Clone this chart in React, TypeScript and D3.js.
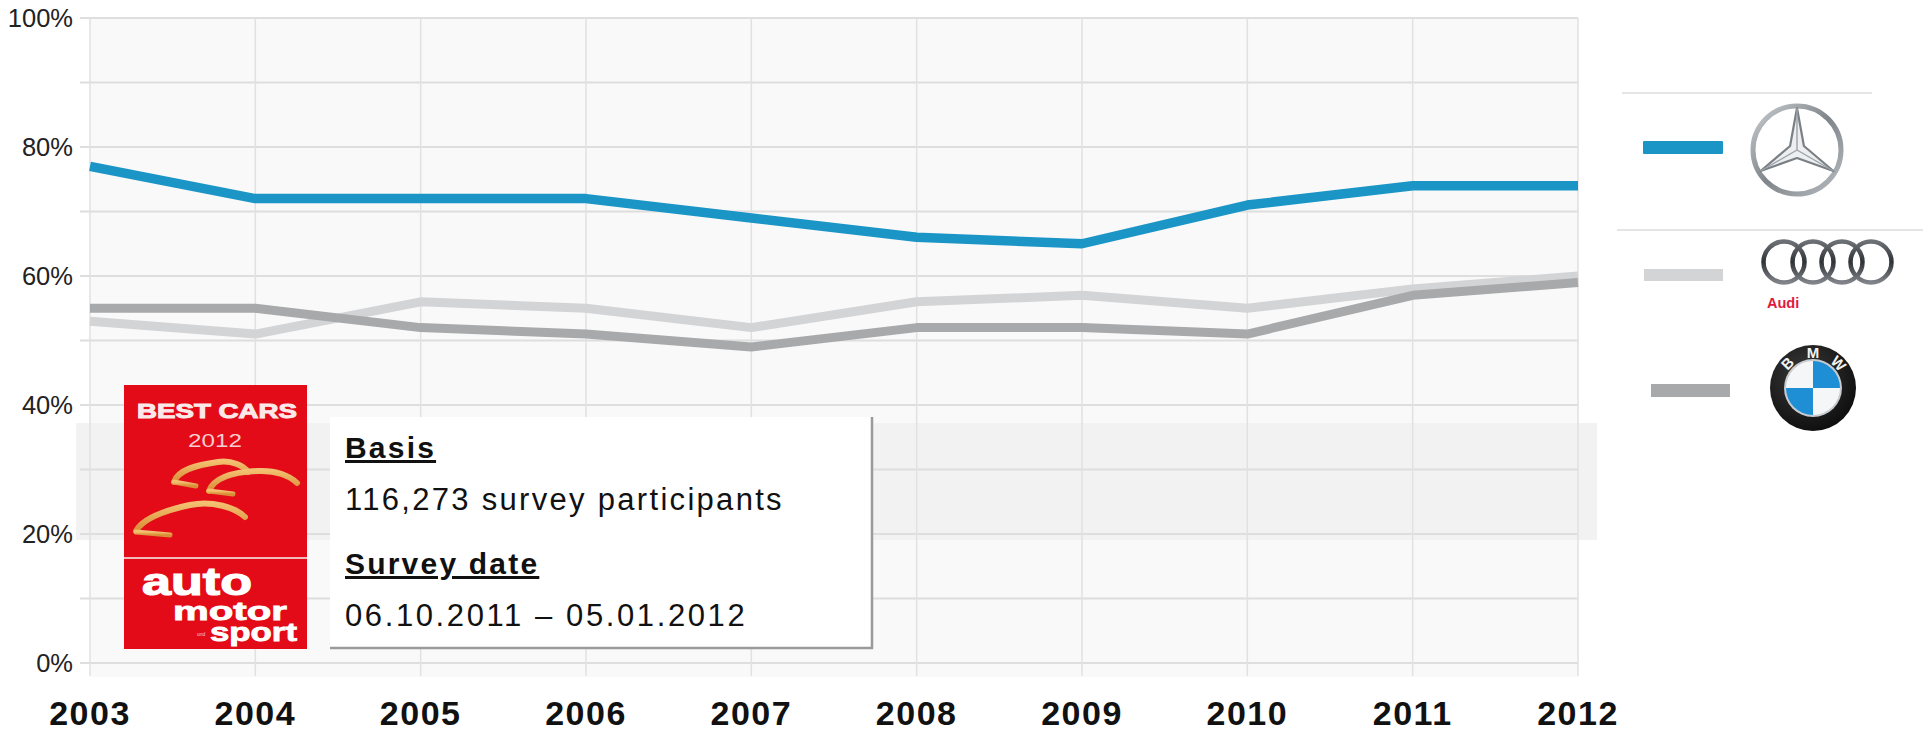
import React from "react";
import * as d3 from "d3";

const years = ["2003", "2004", "2005", "2006", "2007", "2008", "2009", "2010", "2011", "2012"];
const mercedes = [77, 72, 72, 72, 69, 66, 65, 71, 74, 74];
const audi = [53, 51, 56, 55, 52, 56, 57, 55, 58, 60];
const bmw = [55, 55, 52, 51, 49, 52, 52, 51, 57, 59];
const yTickLabels = [0, 20, 40, 60, 80, 100];
const gridValues = [0, 10, 20, 30, 40, 50, 60, 70, 80, 90, 100];

const W = 1923;
const H = 731;
const FONT = "'Liberation Sans', Arial, Helvetica, sans-serif";

export default function App() {
  const x = d3.scalePoint<string>().domain(years).range([90, 1578]);
  const y = d3.scaleLinear().domain([0, 100]).range([663, 18]);
  const line = d3
    .line<number>()
    .x((_, i) => x(years[i]) as number)
    .y((d) => y(d));

  const series = [
    { name: "Audi", values: audi, color: "#d3d4d6", width: 9 },
    { name: "BMW", values: bmw, color: "#a7a9ab", width: 9 },
    { name: "Mercedes", values: mercedes, color: "#1b95c6", width: 9.5 },
  ];

  // Mercedes star geometry
  const mc = { x: 1797, y: 150 };
  const starOuter = 42;
  const starInner = 8;
  const starPts: [number, number][] = [];
  for (let k = 0; k < 6; k++) {
    const ang = (-90 + k * 60) * (Math.PI / 180);
    const r = k % 2 === 0 ? starOuter : starInner;
    starPts.push([mc.x + r * Math.cos(ang), mc.y + r * Math.sin(ang)]);
  }

  const bc = { x: 1813, y: 388 };
  const bmwLetters = [
    { t: "B", a: -136 },
    { t: "M", a: -90 },
    { t: "W", a: -44 },
  ];
  const arc = d3.arc<any>();
  const quad = (s: number, e: number) =>
    arc({ innerRadius: 0, outerRadius: 27, startAngle: s, endAngle: e }) as string;

  return (
    <div style={{ position: "absolute", left: 0, top: 0 }}>
      <svg width={W} height={H} viewBox={`0 0 ${W} ${H}`} style={{ display: "block", background: "#fff" }}>
        <defs>
          <linearGradient id="silver" x1="0" y1="0" x2="1" y2="1">
            <stop offset="0" stopColor="#c9cdd1" />
            <stop offset="0.5" stopColor="#7f858a" />
            <stop offset="1" stopColor="#b9bdc1" />
          </linearGradient>
          <linearGradient id="audiRing" x1="0" y1="0" x2="0" y2="1">
            <stop offset="0" stopColor="#6d7176" />
            <stop offset="0.5" stopColor="#2f3236" />
            <stop offset="1" stopColor="#80848a" />
          </linearGradient>
          <radialGradient id="bmwBlack" cx="0.4" cy="0.35" r="0.7">
            <stop offset="0" stopColor="#3a3a3a" />
            <stop offset="1" stopColor="#0d0d0d" />
          </radialGradient>
          <linearGradient id="gold" x1="0" y1="0" x2="0" y2="1">
            <stop offset="0" stopColor="#f2c070" />
            <stop offset="1" stopColor="#d98d35" />
          </linearGradient>
        </defs>

        {/* plot background */}
        <rect x={x("2003")} y={y(100)} width={(x("2012") as number) - (x("2003") as number)} height={677 - y(100)} fill="#f9f9f9" />
        {/* soft band */}
        <rect x={76} y={423} width={1597 - 76} height={117} fill="#f2f2f2" />

        {/* horizontal gridlines */}
        {gridValues.map((v) => (
          <line key={"h" + v} x1={80} x2={x("2012")} y1={y(v)} y2={y(v)} stroke="#dedede" strokeWidth={2} />
        ))}
        {/* vertical gridlines */}
        {years.map((yr) => (
          <line key={"v" + yr} x1={x(yr)} x2={x(yr)} y1={y(100)} y2={676} stroke="#e1e1e1" strokeWidth={1.5} />
        ))}

        {/* y labels */}
        {yTickLabels.map((v) => (
          <text key={"yl" + v} x={73} y={y(v)} dy="0.35em" textAnchor="end" fontFamily={FONT} fontSize={25.5} fill="#222">
            {v}%
          </text>
        ))}

        {/* x labels */}
        {years.map((yr) => (
          <text key={"xl" + yr} x={x(yr)} y={725} textAnchor="middle" fontFamily={FONT} fontWeight="bold" fontSize={34} letterSpacing={1.5} fill="#111">
            {yr}
          </text>
        ))}

        {/* series lines */}
        {series.map((s) => (
          <path key={s.name} d={line(s.values) as string} fill="none" stroke={s.color} strokeWidth={s.width} strokeLinejoin="round" />
        ))}

        {/* info box */}
        <rect x={330} y={417} width={543} height={231} fill="#fff" />
        <line x1={872} x2={872} y1={417} y2={649} stroke="#9a9a9a" strokeWidth={2.5} />
        <line x1={330} x2={873} y1={648} y2={648} stroke="#9a9a9a" strokeWidth={2.5} />
        <text x={345} y={458} fontFamily={FONT} fontWeight="bold" fontSize={30} letterSpacing={2.2} fill="#111" textDecoration="underline">
          Basis
        </text>
        <text x={345} y={510} fontFamily={FONT} fontSize={31} letterSpacing={2.3} fill="#111">
          116,273 survey participants
        </text>
        <text x={345} y={574} fontFamily={FONT} fontWeight="bold" fontSize={30} letterSpacing={2.2} fill="#111" textDecoration="underline">
          Survey date
        </text>
        <text x={345} y={626} fontFamily={FONT} fontSize={31} letterSpacing={2.6} fill="#111">
          06.10.2011 – 05.01.2012
        </text>

        {/* red logo */}
        <rect x={124} y={385} width={183} height={264} fill="#e30b17" />
        <line x1={124} x2={307} y1={558} y2={558} stroke="#f4b9bc" strokeWidth={2} />
        <text x={137} y={418} fontFamily={FONT} fontWeight="bold" fontSize={21} textLength={160} lengthAdjust="spacingAndGlyphs" fill="#fbe9ea" stroke="#fbe9ea" strokeWidth={1}>
          BEST CARS
        </text>
        <text x={188} y={447} fontFamily={FONT} fontSize={19} textLength={54} lengthAdjust="spacingAndGlyphs" fill="#f6cdd0">
          2012
        </text>
        <g fill="none" stroke="url(#gold)" strokeWidth={6} strokeLinecap="round">
          <path d="M 174 482 C 178 470, 196 465, 218 462 C 232 460, 244 466, 248 472" />
          <path d="M 174 482 L 196 486" strokeWidth={5} />
          <path d="M 209 491 C 214 478, 232 472, 258 471 C 276 470, 290 476, 297 483" />
          <path d="M 209 491 L 233 494" strokeWidth={5} />
          <path d="M 136 531 C 142 520, 162 511, 190 505 C 212 500, 236 508, 245 517" />
          <path d="M 136 532 L 170 535" strokeWidth={5} />
        </g>
        <text x={142} y={595} fontFamily={FONT} fontWeight="bold" fontSize={38} textLength={110} lengthAdjust="spacingAndGlyphs" fill="#fff" stroke="#fff" strokeWidth={1.2}>
          auto
        </text>
        <text x={173} y={620} fontFamily={FONT} fontWeight="bold" fontSize={25} textLength={114} lengthAdjust="spacingAndGlyphs" fill="#fff" stroke="#fff" strokeWidth={0.8}>
          motor
        </text>
        <text x={197} y={636} fontFamily={FONT} fontSize={5} fill="#f6cdd0">
          und
        </text>
        <text x={210} y={641} fontFamily={FONT} fontWeight="bold" fontSize={25} textLength={87} lengthAdjust="spacingAndGlyphs" fill="#fff" stroke="#fff" strokeWidth={0.8}>
          sport
        </text>

        {/* legend separators */}
        <line x1={1622} x2={1872} y1={93} y2={93} stroke="#dcdcdc" strokeWidth={1.5} />
        <line x1={1617} x2={1923} y1={230} y2={230} stroke="#dcdcdc" strokeWidth={1.5} />

        {/* legend bars */}
        <rect x={1643} y={141} width={80} height={13} fill={series[2].color} rx={1} />
        <rect x={1644} y={269} width={79} height={12} fill={series[0].color} />
        <rect x={1651} y={384} width={79} height={13} fill={series[1].color} />

        {/* Mercedes star */}
        <circle cx={mc.x} cy={mc.y} r={44} fill="none" stroke="url(#silver)" strokeWidth={5} />
        <polygon points={starPts.map((p) => p.join(",")).join(" ")} fill="#eceef0" stroke="#7a8085" strokeWidth={2.2} strokeLinejoin="round" />
        {[0, 2, 4].map((k) => (
          <line key={"st" + k} x1={mc.x} y1={mc.y} x2={starPts[k][0]} y2={starPts[k][1]} stroke="#9da2a7" strokeWidth={1.4} />
        ))}

        {/* Audi rings */}
        {[1784, 1813, 1842, 1871].map((cx) => (
          <circle key={"ar" + cx} cx={cx} cy={262} r={20.5} fill="none" stroke="url(#audiRing)" strokeWidth={4.5} />
        ))}
        <text x={1767} y={308} fontFamily={FONT} fontWeight="bold" fontSize={14.5} fill="#e2183f">
          Audi
        </text>

        {/* BMW roundel */}
        <circle cx={bc.x} cy={bc.y} r={43} fill="url(#bmwBlack)" />
        <circle cx={bc.x} cy={bc.y} r={29} fill="#c8ccd0" />
        <g transform={`translate(${bc.x},${bc.y})`}>
          <path d={quad(0, Math.PI / 2)} fill="#1e8fd5" />
          <path d={quad(Math.PI / 2, Math.PI)} fill="#f4f6f8" />
          <path d={quad(Math.PI, 1.5 * Math.PI)} fill="#1e8fd5" />
          <path d={quad(1.5 * Math.PI, 2 * Math.PI)} fill="#f4f6f8" />
          {bmwLetters.map((l) => {
            const a = (l.a * Math.PI) / 180;
            const r = 35.5;
            return (
              <text
                key={l.t}
                x={r * Math.cos(a)}
                y={r * Math.sin(a)}
                transform={`rotate(${l.a + 90} ${r * Math.cos(a)} ${r * Math.sin(a)})`}
                textAnchor="middle"
                dy="0.36em"
                fontFamily={FONT}
                fontWeight="bold"
                fontSize={15}
                fill="#f2f2f2"
              >
                {l.t}
              </text>
            );
          })}
        </g>
      </svg>
    </div>
  );
}
